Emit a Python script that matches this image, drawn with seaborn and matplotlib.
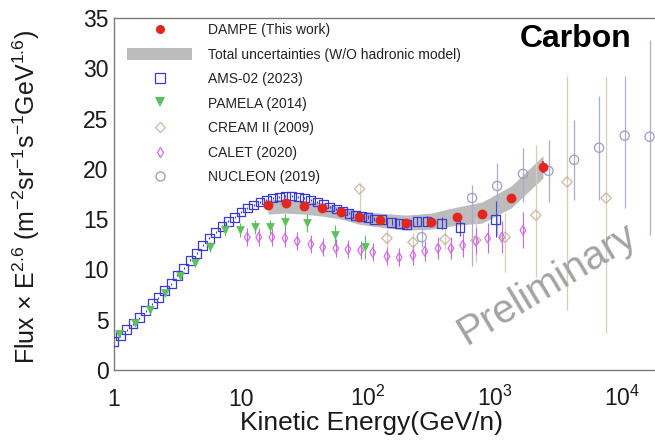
import numpy as np
import matplotlib
matplotlib.use("Agg")
import matplotlib.pyplot as plt
from matplotlib.lines import Line2D
from matplotlib.patches import Patch
from matplotlib.ticker import FixedLocator, FixedFormatter, LogLocator, NullFormatter, MultipleLocator
import seaborn as sns

# ---- data ----
dampe_e = [16.3, 22.6, 31.3, 43.4, 61.3, 85, 124, 199, 312, 500, 790, 1340, 2388]
dampe_f = [16.4, 16.6, 16.3, 16.1, 15.7, 15.2, 14.9, 14.6, 14.7, 15.2, 15.5, 17.1, 20.2]
dampe_err = [0.1, 0.1, 0.1, 0.1, 0.1, 0.1, 0.1, 0.1, 0.1, 0.15, 0.2, 0.3, 0.6]
band_lo = [15.5, 15.6, 15.5, 15.3, 15.0, 14.5, 14.2, 13.9, 14.0, 14.4, 14.6, 16.1, 19.1]
band_hi = [16.9, 17.0, 16.8, 16.6, 16.2, 15.8, 15.6, 15.4, 15.6, 16.2, 16.7, 18.3, 21.3]

ams_e = [1.00, 1.12, 1.26, 1.41, 1.58, 1.78, 2.00, 2.24, 2.51, 2.82, 3.16, 3.55, 3.98,
         4.47, 5.01, 5.62, 6.31, 7.08, 7.94, 8.91, 10.0, 11.2, 12.6, 14.1, 15.8, 17.8,
         20.0, 22.4, 25.1, 28.2, 31.6, 35.5, 39.8, 44.7, 50.1, 56.2, 63.1, 70.8, 79.4,
         89.1, 100, 112, 129, 154, 176, 202, 243, 292, 381, 530, 1010]
ams_f = [2.8, 3.4, 4.0, 4.6, 5.2, 5.9, 6.6, 7.2, 7.9, 8.6, 9.4, 10.1, 10.9,
         11.6, 12.4, 13.1, 13.7, 14.3, 14.8, 15.2, 15.7, 16.1, 16.4, 16.7, 16.9, 17.1,
         17.2, 17.3, 17.3, 17.2, 17.1, 16.9, 16.7, 16.5, 16.2, 16.0, 15.8, 15.6, 15.4,
         15.3, 15.2, 15.0, 15.0, 14.7, 14.6, 14.5, 14.8, 14.8, 14.6, 14.2, 15.0]
ams_err = [0.1] * 40 + [0.2, 0.2, 0.3, 0.3, 0.3, 0.4, 0.4, 0.5, 0.6, 0.9, 1.8]

pamela_e = [1.095, 1.46, 1.92, 2.50, 3.31, 4.34, 5.70, 7.47, 9.8, 12.9, 16.9, 22.2, 33.0, 54.6, 94]
pamela_f = [3.6, 4.7, 6.0, 7.7, 9.3, 10.6, 12.2, 13.9, 13.9, 14.2, 14.2, 14.7, 14.6, 13.4, 12.2]
pamela_err = [0.2, 0.2, 0.2, 0.3, 0.3, 0.4, 0.5, 0.6, 0.7, 0.7, 0.7, 0.8, 0.9, 1.0, 1.2]

cream_e = [86, 141, 226, 405, 707, 1200, 2100, 3700, 7500]
cream_f = [18.0, 13.1, 12.7, 13.0, 12.9, 13.2, 15.4, 18.7, 17.1]
cream_lo = [2.6, 0.9, 0.9, 1.0, 2.2, 3.5, 6.2, 12.7, 13.4]
cream_hi = [0.6, 0.9, 0.9, 1.0, 2.3, 2.4, 7.0, 10.5, 12.1]

calet_e = [11.2, 13.8, 17.5, 22.2, 27.7, 35.5, 44.0, 55.8, 69.5, 87.6, 109, 141,
           176, 226, 280, 356, 450, 557, 707, 876, 1130, 1660]
calet_f = [13.2, 13.2, 13.2, 13.1, 12.8, 12.5, 12.2, 12.1, 12.0, 11.9, 11.7, 11.3,
           11.2, 11.4, 11.8, 12.1, 12.1, 12.4, 12.8, 13.1, 13.2, 13.9]
calet_err = [0.9, 0.9, 0.9, 0.9, 0.9, 0.9, 0.9, 0.9, 0.9, 0.9, 0.9, 0.9,
             0.9, 1.0, 1.0, 1.1, 1.1, 1.2, 1.3, 1.5, 1.6, 1.8]

nucleon_e = [265, 660, 1040, 1660, 2640, 4200, 6600, 10500, 16500]
nucleon_f = [13.2, 17.1, 18.3, 19.5, 19.8, 20.9, 22.1, 23.3, 23.2]
nucleon_lo = [1.0, 6.8, 4.9, 2.8, 3.1, 4.0, 5.2, 7.2, 9.8]
nucleon_hi = [1.0, 1.3, 2.3, 2.6, 3.1, 4.0, 5.1, 5.9, 9.6]

x_ticks = [1, 10, 100, 1000, 10000]
x_ticklabels = ["1", "10", "$10^2$", "$10^3$", "$10^4$"]

c_red = "#e3261f"
c_band = "#bcbcbc"
c_ams = "#3a3ad8"
c_pam = "#5cc15a"
c_cream = "#c9b99c"
c_cream_bar = "#d9ccb6"
c_calet = "#d063e6"
c_nuc = "#9c9fbf"
c_nuc_bar = "#a9acd2"

sns.set_theme(style="white")
plt.rcParams["font.family"] = ["Liberation Sans", "DejaVu Sans"]
plt.rcParams["mathtext.default"] = "regular"

fig = plt.figure(figsize=(6.55, 4.41), dpi=100)
ax = fig.add_axes([114 / 655, 1 - 370 / 441, 1 - 114 / 655, (370 - 18) / 441])

# uncertainty band
ax.fill_between(dampe_e, band_lo, band_hi, color=c_band, lw=0, zorder=1)

# error bars
ax.errorbar(ams_e, ams_f, yerr=ams_err, fmt="none", ecolor=c_ams, elinewidth=0.8, zorder=2)
ax.errorbar(pamela_e, pamela_f, yerr=pamela_err, fmt="none", ecolor=c_pam, elinewidth=0.8, zorder=2)
ax.errorbar(cream_e, cream_f, yerr=[cream_lo, cream_hi], fmt="none", ecolor=c_cream_bar, elinewidth=0.9, zorder=2)
ax.errorbar(calet_e, calet_f, yerr=calet_err, fmt="none", ecolor=c_calet, elinewidth=0.8, zorder=2)
ax.errorbar(nucleon_e, nucleon_f, yerr=[nucleon_lo, nucleon_hi], fmt="none", ecolor=c_nuc_bar, elinewidth=0.9, zorder=2)
ax.errorbar(dampe_e, dampe_f, yerr=dampe_err, fmt="none", ecolor=c_red, elinewidth=1.2, zorder=4)

# markers
sns.scatterplot(x=ams_e, y=ams_f, marker="s", s=40, color=c_ams, facecolor="none",
                edgecolor=c_ams, linewidth=0.9, ax=ax, zorder=3)
sns.scatterplot(x=pamela_e, y=pamela_f, marker="v", s=40, color=c_pam, edgecolor=c_pam,
                linewidth=0, ax=ax, zorder=3)
sns.scatterplot(x=cream_e, y=cream_f, marker="D", s=28, color=c_cream, facecolor="none",
                edgecolor=c_cream, linewidth=0.9, ax=ax, zorder=3)
sns.scatterplot(x=calet_e, y=calet_f, marker="d", s=24, color=c_calet, facecolor="none",
                edgecolor=c_calet, linewidth=0.8, ax=ax, zorder=3)
sns.scatterplot(x=nucleon_e, y=nucleon_f, marker="o", s=44, color=c_nuc, facecolor="none",
                edgecolor=c_nuc, linewidth=0.9, ax=ax, zorder=3)
sns.scatterplot(x=dampe_e, y=dampe_f, marker="o", s=50, color=c_red, edgecolor=c_red,
                linewidth=0, ax=ax, zorder=5)

ax.set_xscale("log")
ax.set_xlim(1, 1.82e4)
ax.set_ylim(0, 35)

ax.xaxis.set_major_locator(FixedLocator(x_ticks))
ax.xaxis.set_major_formatter(FixedFormatter(x_ticklabels))
ax.xaxis.set_minor_locator(LogLocator(base=10, subs=np.arange(2, 10)))
ax.xaxis.set_minor_formatter(NullFormatter())
ax.yaxis.set_major_locator(MultipleLocator(5))
ax.yaxis.set_minor_locator(MultipleLocator(1))

ax.tick_params(axis="both", which="both", direction="in", colors="#6f6f6f", width=0.8,
               labelcolor="#1a1a1a")
ax.tick_params(axis="x", which="major", length=10, labelsize=16.5, pad=26)
ax.tick_params(axis="x", which="minor", length=5)
ax.tick_params(axis="y", which="major", length=12, labelsize=16.5, pad=4)
ax.tick_params(axis="y", which="minor", length=6)
for lab in ax.get_xticklabels():
    lab.set_verticalalignment("baseline")

for side in ["left", "bottom", "top"]:
    ax.spines[side].set_color("#7a7a7a")
    ax.spines[side].set_linewidth(1.0)
ax.spines["right"].set_visible(False)

ax.set_xlabel("Kinetic Energy(GeV/n)", fontsize=19, color="#1a1a1a")
ax.xaxis.set_label_coords((371 - 114) / 541, (370 - 411) / 352)
ax.set_ylabel(r"Flux $\times$ E$^{2.6}$ (m$^{-2}$sr$^{-1}$s$^{-1}$GeV$^{1.6}$)",
              fontsize=18, color="#1a1a1a")
ax.yaxis.set_label_coords((42 - 114) / 541, 0.49)

ax.text(0.853, 0.94, "Carbon", transform=ax.transAxes, fontsize=23, fontweight="bold",
        ha="center", va="center", color="black")
ax.text(0.80, 0.245, "Preliminary", transform=ax.transAxes, fontsize=29, rotation=31,
        ha="center", va="center", color="#a3a3a3")

handles = [
    Line2D([], [], marker="o", ls="none", color=c_red, markersize=6.5, mew=0),
    Patch(facecolor=c_band, edgecolor="none"),
    Line2D([], [], marker="s", ls="none", mfc="none", mec=c_ams, markersize=7, mew=0.9),
    Line2D([], [], marker="v", ls="none", color=c_pam, markersize=6.5, mew=0),
    Line2D([], [], marker="D", ls="none", mfc="none", mec=c_cream, markersize=5, mew=0.9),
    Line2D([], [], marker="d", ls="none", mfc="none", mec=c_calet, markersize=5.5, mew=0.8),
    Line2D([], [], marker="o", ls="none", mfc="none", mec="#9a9a9a", markersize=6.5, mew=0.9),
]
labels = ["DAMPE (This work)", "Total uncertainties (W/O hadronic model)", "AMS-02 (2023)",
          "PAMELA (2014)", "CREAM II (2009)", "CALET (2020)", "NUCLEON (2019)"]
leg = ax.legend(handles, labels, loc="upper left", bbox_to_anchor=(127 / 655, 1 - 23 / 441),
                bbox_transform=fig.transFigure, frameon=False, fontsize=10, borderpad=0,
                borderaxespad=0, handlelength=4.7, handleheight=0.9, handletextpad=1.1,
                labelspacing=0.76)
for t in leg.get_texts():
    t.set_color("#222222")

fig.savefig("out.png", dpi=100)
